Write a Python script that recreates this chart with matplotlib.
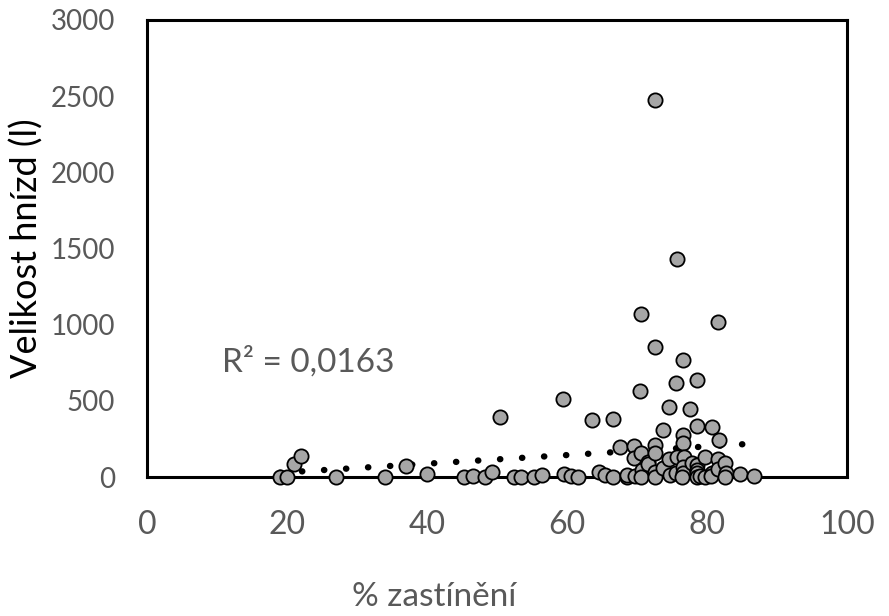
import matplotlib
matplotlib.use("Agg")
import matplotlib.pyplot as plt
import numpy as np

# shading (%) and nest size (l)
shade = [19, 20, 21, 22, 27, 34, 37, 40,
         45.3, 46.5, 48.3, 49.3, 50.4,
         52.4, 53.4, 55.3, 56.4, 59.4, 59.5, 60.5, 61.5,
         63.5, 64.5, 65.4, 66.5, 66.5, 67.6, 68.5, 68.5, 69.6, 69.6, 69.7,
         70.4, 70.6, 70.7, 70.5, 70.6, 71.6, 71.6,
         72.6, 72.6, 72.6, 72.6, 72.6, 72.6,
         73.7, 73.7, 74.6, 74.6, 74.7,
         75.7, 75.6, 75.7, 75.6,
         76.6, 76.6, 76.6, 76.7, 76.5, 76.6, 76.4,
         77.6, 77.8,
         78.6, 78.6, 78.5, 78.6, 78.6, 78.6, 79.0,
         79.7, 79.7, 80.7, 80.7, 80.5,
         81.6, 81.7, 81.6, 81.6,
         82.6, 82.7, 82.6, 84.7, 86.7]
nest = [0, 0, 85, 140, 0, 0, 72, 17,
        0, 8, 0, 35, 392,
        0, 2, 0, 15, 510, 18, 5, 0,
        375, 30, 15, 378, 0, 200, 0, 13, 203, 127, 5,
        565, 1070, 46, 2, 155, 100, 85,
        2475, 851, 212, 160, 35, 0,
        308, 57, 457, 116, 13,
        1431, 615, 133, 28,
        770, 278, 223, 129, 68, 24, 0,
        448, 95,
        637, 335, 79, 46, 24, 0, 7,
        133, 0, 328, 24, 7,
        1015, 245, 116, 50,
        94, 24, 0, 20, 5]

# linear trendline shown in the chart
trend_slope = 2.83
trend_intercept = -25.8
r2_label = "R² = 0,0163"

xticks = [0, 20, 40, 60, 80, 100]
yticks = [0, 500, 1000, 1500, 2000, 2500, 3000]

grey = "#595959"
plt.rcParams["font.family"] = ["Lato", "DejaVu Sans"]

fig = plt.figure(figsize=(8.89, 6.16), dpi=100)
ax = fig.add_axes([147 / 889, 1 - 477 / 616, 700 / 889, 457 / 616])

tx = np.array([min(shade), max(shade)])
ax.plot(tx, trend_intercept + trend_slope * tx, color="black", lw=4.6,
        linestyle=(0, (0.05, 3.4)), dash_capstyle="round", zorder=2)
ax.scatter(shade, nest, s=105, facecolor="#a6a6a6", edgecolor="black",
           linewidth=1.3, zorder=3, clip_on=False)

ax.set_xlim(0, 100)
ax.set_ylim(0, 3000)
ax.set_xticks(xticks)
ax.set_yticks(yticks)
ax.tick_params(axis="x", length=0, pad=24, labelsize=23, labelcolor=grey)
ax.tick_params(axis="y", length=0, pad=23, labelsize=20, labelcolor=grey)
for s in ax.spines.values():
    s.set_linewidth(2.2)
    s.set_color("black")

ax.set_xlabel("% zastínění", fontsize=24, color=grey)
ax.xaxis.set_label_coords(0.41, -0.23)
ax.set_ylabel("Velikost hnízd (l)", fontsize=26, color="black")
ax.yaxis.set_label_coords(-0.148, 0.5)
ax.text(10.7, 755, r2_label, fontsize=24, color=grey, va="center", ha="left")

fig.savefig("out.png", dpi=100)
